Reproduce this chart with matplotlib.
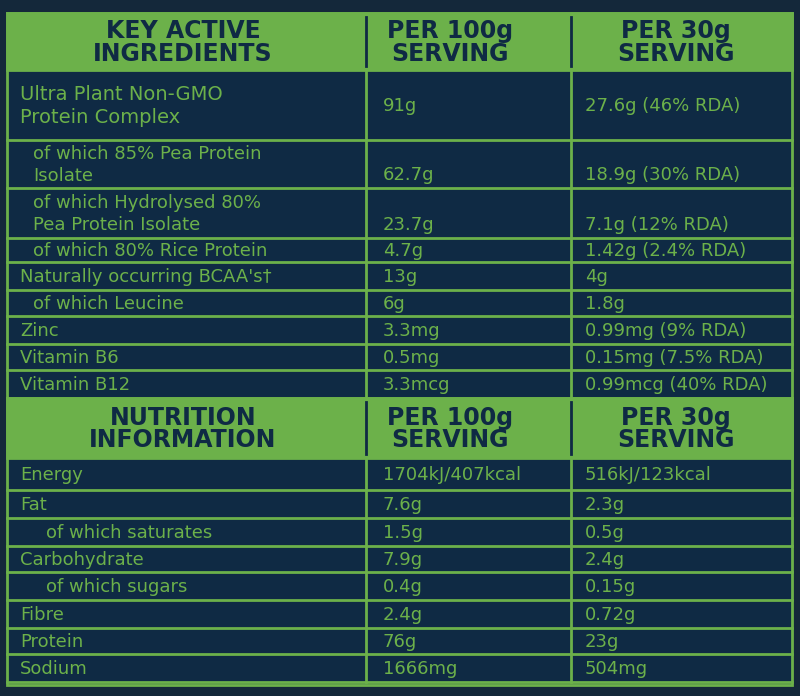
import matplotlib.pyplot as plt
from matplotlib.patches import Rectangle

BG = "#0f2a44"
OUTER = "#14283a"
GREEN = "#6cb14a"
TEXT_DARK = "#0f2a44"

# (label, per 100g, per 30g, indent, row height)
ingredients = [
    ("Ultra Plant Non-GMO\nProtein Complex", "91g", "27.6g (46% RDA)", 0, 70),
    ("of which 85% Pea Protein\nIsolate", "62.7g", "18.9g (30% RDA)", 1, 48),
    ("of which Hydrolysed 80%\nPea Protein Isolate", "23.7g", "7.1g (12% RDA)", 1, 50),
    ("of which 80% Rice Protein", "4.7g", "1.42g (2.4% RDA)", 1, 24),
    ("Naturally occurring BCAA's\u2020", "13g", "4g", 0, 28),
    ("of which Leucine", "6g", "1.8g", 1, 26),
    ("Zinc", "3.3mg", "0.99mg (9% RDA)", 0, 28),
    ("Vitamin B6", "0.5mg", "0.15mg (7.5% RDA)", 0, 26),
    ("Vitamin B12", "3.3mcg", "0.99mcg (40% RDA)", 0, 28),
]
nutrition = [
    ("Energy", "1704kJ/407kcal", "516kJ/123kcal", 0, 32),
    ("Fat", "7.6g", "2.3g", 0, 28),
    ("of which saturates", "1.5g", "0.5g", 2, 28),
    ("Carbohydrate", "7.9g", "2.4g", 0, 26),
    ("of which sugars", "0.4g", "0.15g", 2, 28),
    ("Fibre", "2.4g", "0.72g", 0, 28),
    ("Protein", "76g", "23g", 0, 26),
    ("Sodium", "1666mg", "504mg", 0, 28),
]
headers1 = ["KEY ACTIVE\nINGREDIENTS", "PER 100g\nSERVING", "PER 30g\nSERVING"]
headers2 = ["NUTRITION\nINFORMATION", "PER 100g\nSERVING", "PER 30g\nSERVING"]

col_x = [7, 366, 571, 792]
fig = plt.figure(figsize=(8, 6.96), dpi=100, facecolor=OUTER)
ax = fig.add_axes([0, 0, 1, 1])
ax.set_xlim(0, 800)
ax.set_ylim(696, 0)
ax.axis("off")
ax.add_patch(Rectangle((col_x[0], 13), col_x[3] - col_x[0], 672, fc=BG, ec=GREEN, lw=2))


def header(y, h, labels):
    ax.add_patch(Rectangle((col_x[0], y), col_x[3] - col_x[0], h, fc=GREEN, ec=GREEN, lw=2))
    centers = [183, 450, 676]
    for cx, lab in zip(centers, labels):
        ax.text(cx, y + h / 2 + 1, lab, ha="center", va="center", color=TEXT_DARK,
                fontsize=17, fontweight="heavy", family="DejaVu Sans",
                linespacing=0.9)
    for x in col_x[1:3]:
        ax.plot([x, x], [y + 4, y + h - 4], color=TEXT_DARK, lw=2)
    return y + h


def body(y, rows):
    for lab, v1, v2, ind, h in rows:
        ax.plot([col_x[0], col_x[3]], [y + h, y + h], color=GREEN, lw=2)
        for x in col_x[1:3]:
            ax.plot([x, x], [y, y + h], color=GREEN, lw=2)
        multi = "\n" in lab
        ty = y + h / 2 + 1
        fs = 14 if (multi and not ind) else 13
        ax.text(20 + ind * 13, ty, lab, ha="left", va="center", color=GREEN,
                fontsize=fs, linespacing=1.3)
        vy = y + h - 13 if (multi and ind) else ty
        ax.text(383, vy, v1, ha="left", va="center", color=GREEN, fontsize=13)
        ax.text(585, vy, v2, ha="left", va="center", color=GREEN, fontsize=13)
        y += h
    return y


y = header(13, 57, headers1)
y = body(y, ingredients)
y = header(y, 60, headers2)
y = body(y, nutrition)

fig.savefig("out.png", dpi=100, facecolor=OUTER)
